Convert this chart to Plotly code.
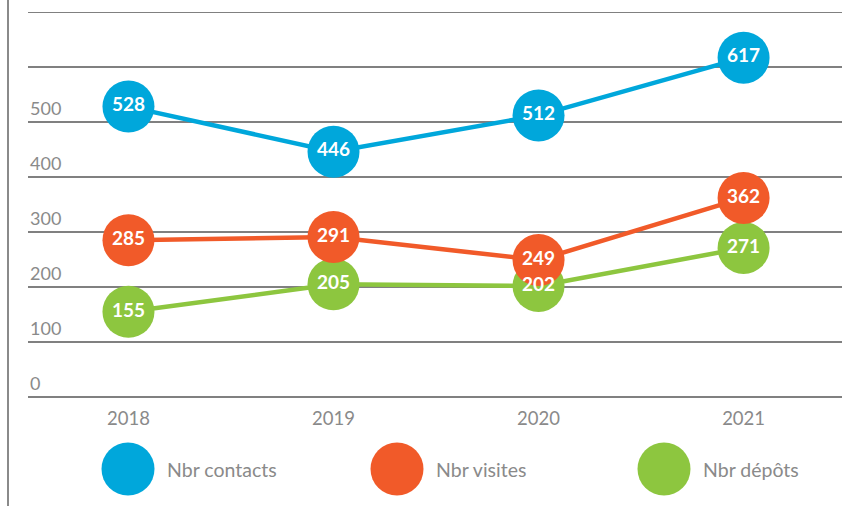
import plotly.graph_objects as go

years = [2018, 2019, 2020, 2021]
contacts = [528, 446, 512, 617]
visites = [285, 291, 249, 362]
depots = [155, 205, 202, 271]
series_names = ["Nbr contacts", "Nbr visites", "Nbr dépôts"]
colors = ["#00A7DB", "#F15A29", "#8DC63F"]
y_ticks = [0, 100, 200, 300, 400, 500, 600, 700]
y_labels = ["0", "100", "200", "300", "400", "500"]

FONT = "Lato"
GREY = "#8A8A8A"
W, H = 842, 506
ML, MR, MT, MB = 28, 0, 12, 109
PW = W - ML - MR
PH = H - MT - MB

fig = go.Figure()
groups = [(depots, series_names[2], colors[2]),
          (visites, series_names[1], colors[1]),
          (contacts, series_names[0], colors[0])]
for vals, name, col in groups:
    fig.add_trace(go.Scatter(
        x=years, y=vals, name=name, mode="lines+markers",
        line=dict(color=col, width=4.5),
        marker=dict(color=col, size=52, line=dict(width=0)),
        cliponaxis=False, showlegend=False, hoverinfo="skip"))
for vals, name, col in groups:
    fig.add_trace(go.Scatter(
        x=years, y=vals, name=name, mode="text",
        text=[str(v) for v in vals], textposition="middle center",
        textfont=dict(color="white", size=19, family=FONT, weight="bold"),
        cliponaxis=False, showlegend=False, hoverinfo="skip"))

# y tick labels above gridlines
for v, t in zip(y_ticks, y_labels):
    fig.add_annotation(x=0, xref="paper", y=v, yref="y", text=t,
                       showarrow=False, xanchor="left", yanchor="bottom",
                       yshift=1, font=dict(size=18, color=GREY, family=FONT))

# top gridline
fig.add_shape(type="line", xref="paper", yref="y", x0=0, x1=1, y0=700, y1=700,
              line=dict(color="#808080", width=2), layer="below")

# custom legend
leg_x = [128, 397, 664]
leg_y = 469
for lx, name, col in zip(leg_x, series_names, colors):
    xp = (lx - ML) / PW
    yp = (H - MB - leg_y) / PH
    fig.add_shape(type="circle", xref="paper", yref="paper",
                  xsizemode="pixel", ysizemode="pixel", xanchor=xp, yanchor=yp,
                  x0=-26.5, x1=26.5, y0=-26.5, y1=26.5,
                  fillcolor=col, line=dict(width=0))
    fig.add_annotation(x=xp, xref="paper", y=yp, yref="paper", text=name,
                       showarrow=False, xanchor="left", yanchor="middle",
                       xshift=37, font=dict(size=19.5, color=GREY, family=FONT))

# left vertical border line
fig.add_shape(type="line", xref="paper", yref="paper",
              x0=(8 - ML) / PW, x1=(8 - ML) / PW, y0=-MB / PH - 0.1, y1=1 + MT / PH + 0.1,
              line=dict(color=GREY, width=2))

fig.update_xaxes(range=[2017.51, 2021.48], tickvals=years,
                 ticktext=[str(y) for y in years], showgrid=False,
                 zeroline=False, showline=False, ticks="",
                 ticklabelstandoff=8,
                 tickfont=dict(size=18.5, color=GREY, family=FONT))
fig.update_yaxes(range=[0, 700], tickvals=y_ticks, showticklabels=False,
                 showgrid=True, gridcolor="#808080", gridwidth=2,
                 zeroline=True, zerolinecolor="#808080", zerolinewidth=2,
                 showline=False, ticks="")
fig.update_layout(width=W, height=H, margin=dict(l=ML, r=MR, t=MT, b=MB),
                  plot_bgcolor="white", paper_bgcolor="white",
                  font=dict(family=FONT, color=GREY))
fig.write_html("out.html")
